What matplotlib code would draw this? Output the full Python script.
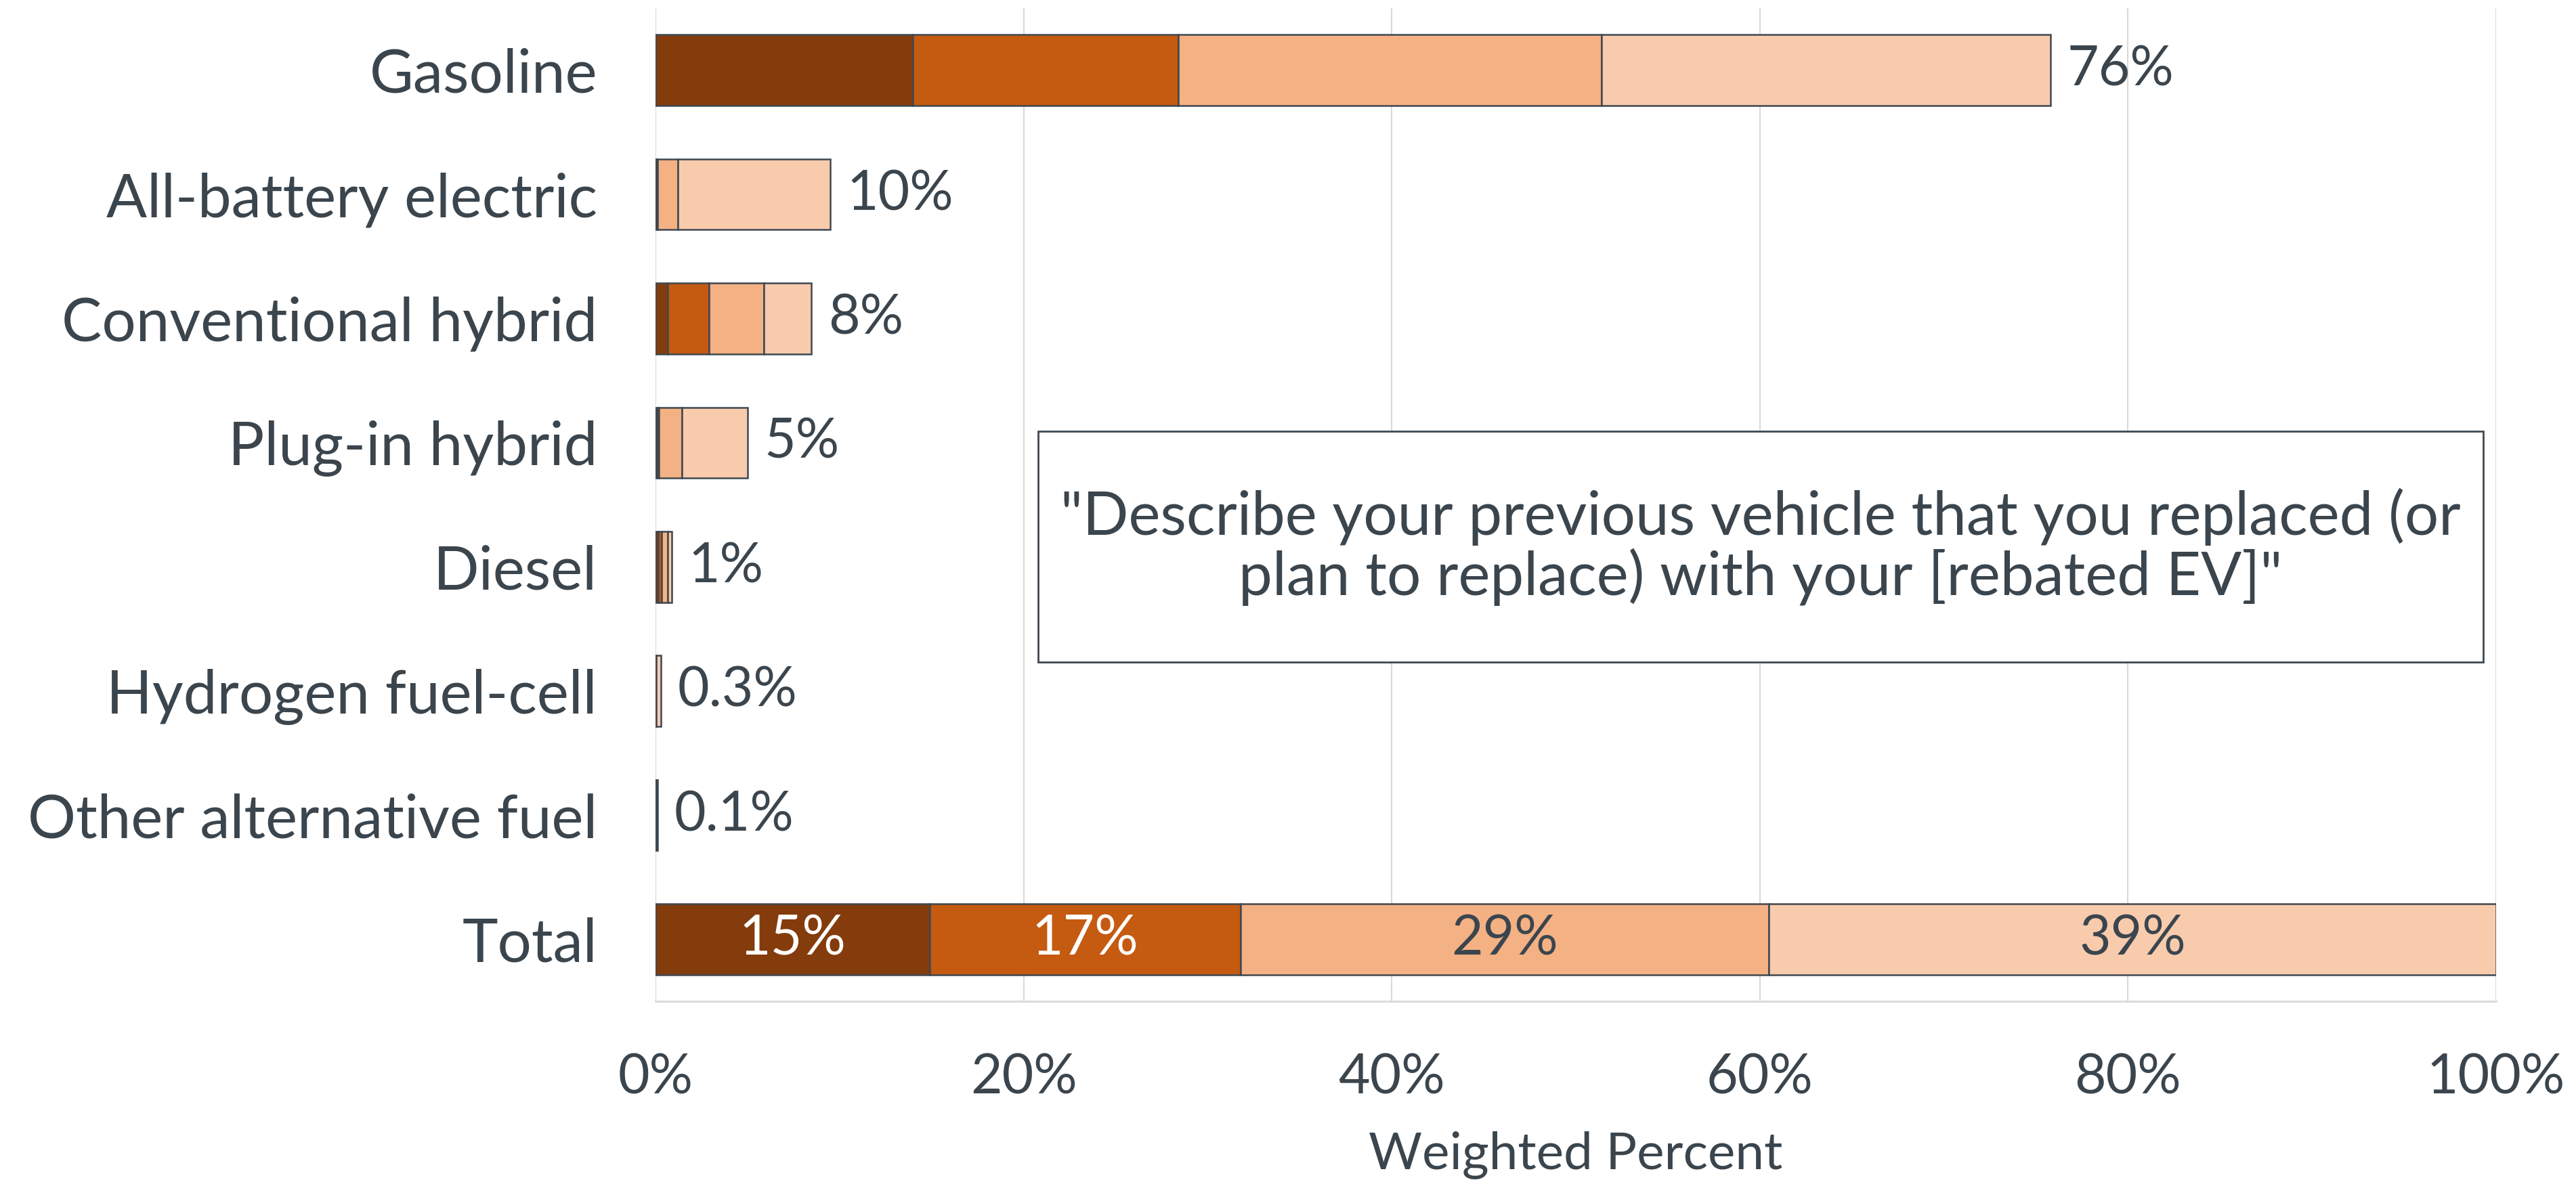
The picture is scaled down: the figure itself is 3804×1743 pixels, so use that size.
import numpy as np
import matplotlib.pyplot as plt
from matplotlib.patches import Rectangle

# categories, top to bottom
categories = ["Gasoline", "All-battery electric", "Conventional hybrid",
              "Plug-in hybrid", "Diesel", "Hydrogen fuel-cell",
              "Other alternative fuel", "Total"]

# four stacked segments per bar (weighted percent)
seg1 = [14.0, 0.05, 0.66, 0.10, 0.15, 0.00, 0.04, 14.9]
seg2 = [14.4, 0.05, 2.25, 0.08, 0.18, 0.00, 0.03, 16.9]
seg3 = [23.0, 1.10, 2.98, 1.25, 0.33, 0.02, 0.02, 28.7]
seg4 = [24.4, 8.30, 2.58, 3.57, 0.22, 0.28, 0.01, 39.5]

# end-of-bar labels for the fuel types, inside labels for the total
end_labels = ["76%", "10%", "8%", "5%", "1%", "0.3%", "0.1%"]
total_labels = ["15%", "17%", "29%", "39%"]

colors = ["#843C0C", "#C55A11", "#F4B183", "#F8CBAD"]
text_dark = "#3B454D"
edge = "#3F4850"

plt.rcParams['font.family'] = ['Lato', 'DejaVu Sans']

fig = plt.figure(figsize=(38.05, 17.43), dpi=100)
ax = fig.add_axes([0.2544, 0.1514, 0.7143, 0.8417])

y = np.arange(len(categories))
segments = [seg1, seg2, seg3, seg4]
left = np.zeros(len(categories))
for vals, col in zip(segments, colors):
    vals = np.array(vals)
    ax.barh(y, vals, left=left, height=0.57, color=col, edgecolor=edge,
            linewidth=1.8, zorder=3)
    left += vals

# labels at the end of each fuel-type bar
for i, lab in enumerate(end_labels):
    ax.text(left[i] + 0.9, y[i], lab, va='center', ha='left',
            fontsize=58, color=text_dark)

# labels inside the total bar
tot_y = len(categories) - 1
start = 0.0
for k, (vals, lab) in enumerate(zip(segments, total_labels)):
    w = vals[tot_y]
    tc = 'white' if k < 2 else text_dark
    ax.text(start + w / 2, tot_y, lab, va='center', ha='center',
            fontsize=58, color=tc, zorder=4)
    start += w

# question box
ax.add_patch(Rectangle((20.8, 2.91), 78.5, 1.86, facecolor='white',
                       edgecolor=edge, linewidth=2, zorder=5))
ax.text(60.05, 3.84,
        "\"Describe your previous vehicle that you replaced (or\n"
        "plan to replace) with your [rebated EV]\"",
        ha='center', va='center', fontsize=64, color=text_dark,
        linespacing=1.05, zorder=6)

ax.set_xlim(0, 100)
ax.set_ylim(7.5, -0.5)
ax.set_yticks(y)
ax.set_yticklabels(categories)
ax.set_xticks([0, 20, 40, 60, 80, 100])
ax.set_xticklabels(["0%", "20%", "40%", "60%", "80%", "100%"])
ax.tick_params(axis='y', length=0, pad=62, labelsize=64, labelcolor=text_dark)
ax.tick_params(axis='x', length=0, pad=55, labelsize=58, labelcolor=text_dark)
ax.set_xlabel("Weighted Percent", fontsize=55, color=text_dark, labelpad=30)

ax.grid(axis='x', color='#D9D9D9', linewidth=1.5, zorder=0)
for s in ['top', 'right', 'left']:
    ax.spines[s].set_visible(False)
ax.spines['bottom'].set_color('#D9D9D9')
ax.spines['bottom'].set_linewidth(2)

fig.savefig('out.png', dpi=100)
